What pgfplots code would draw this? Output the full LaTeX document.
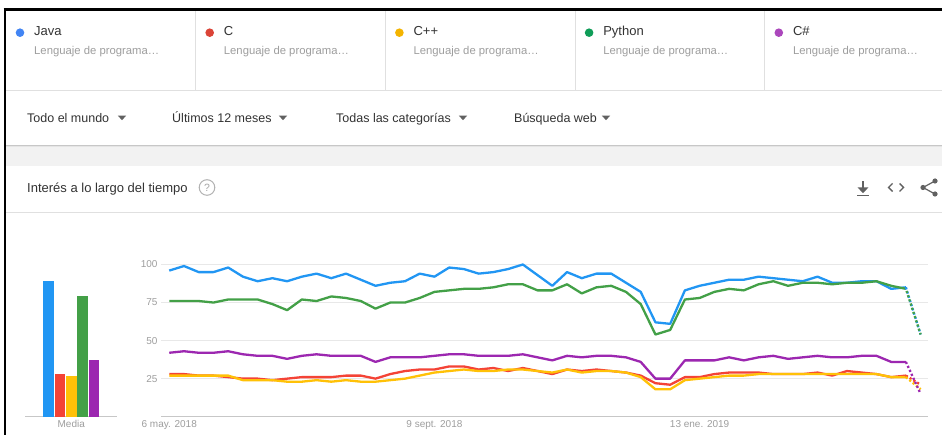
\documentclass[border=0pt]{standalone}
\usepackage{fontspec}
\setmainfont{Liberation Sans}
\usepackage{pgfplots}
\usepackage{pgfplotstable}
\pgfplotsset{compat=1.18}
\definecolor{cjava}{HTML}{2196F3}
\definecolor{cc}{HTML}{F44336}
\definecolor{ccpp}{HTML}{FFC107}
\definecolor{cpy}{HTML}{43A047}
\definecolor{ccs}{HTML}{9C27B0}
\definecolor{djava}{HTML}{4285F4}
\definecolor{dc}{HTML}{DB4437}
\definecolor{dcpp}{HTML}{F4B400}
\definecolor{dpy}{HTML}{0F9D58}
\definecolor{dcs}{HTML}{AB47BC}
\definecolor{txtdark}{HTML}{333333}
\definecolor{txtgray}{HTML}{9E9E9E}
\definecolor{linegray}{HTML}{E0E0E0}
\definecolor{gridgray}{HTML}{E8E8E8}
\definecolor{bandgray}{HTML}{F2F2F2}
\definecolor{icongray}{HTML}{616161}

\pgfplotstableread{
i  java  c   cpp  py  cs
0  96    28  27   76  42
1  99    28  27   76  43
2  95    27  27   76  42
3  95    27  27   75  42
4  98    26  27   77  43
5  92    25  24   77  41
6  89    25  24   77  40
7  91    24  24   74  40
8  89    25  23   70  38
9  92    26  23   77  40
10 94    26  24   76  41
11 91    26  23   79  40
12 94    27  24   78  40
13 90    27  23   76  40
14 86    25  23   71  36
15 88    28  24   75  39
16 89    30  25   75  39
17 94    31  27   78  39
18 92    31  29   82  40
19 98    33  30   83  41
20 97    33  31   84  41
21 94    31  30   84  40
22 95    32  30   85  40
23 97    30  31   87  40
24 100   32  31   87  41
25 93    30  30   83  39
26 86    28  29   83  37
27 95    31  31   87  40
28 91    30  29   81  39
29 94    31  30   85  40
30 94    30  30   86  40
31 88    29  29   82  39
32 82    27  26   74  36
33 62    22  18   54  25
34 61    21  18   57  25
35 83    26  24   77  37
36 86    26  25   78  37
37 88    28  26   82  37
38 90    29  27   84  39
39 90    29  27   83  37
40 92    29  28   87  39
41 91    28  28   89  40
42 90    28  28   86  38
43 89    28  28   88  39
44 92    29  28   88  40
45 88    27  28   87  39
46 88    30  28   88  39
47 89    29  28   88  40
48 89    28  28   89  40
49 84    26  26   86  36
50 85    27  26   84  36
51 54    21  18   54  15
}\trends

\begin{document}
\begin{tikzpicture}[x=1pt,y=1pt]
\useasboundingbox (0,0) rectangle (942,435);
\fill[white] (0,0) rectangle (942,435);
% gray band and shadow
\fill[bandgray] (5,269) rectangle (942,288);
\fill[black!10] (5,287.5) rectangle (942,289);
\fill[black!22] (5,288.8) rectangle (942,289.8);
% lines
\draw[linegray, line width=0.8pt] (5,345) -- (942,345);
\draw[linegray, line width=0.8pt] (5,223) -- (942,223);
\foreach \sx in {195.7,385.4,575.1,764.8} {\draw[linegray, line width=0.8pt] (\sx,345) -- (\sx,424);}
% frame
\draw[black, line width=2.6pt] (3.5,425.5) -- (942,425.5);
\draw[black, line width=2.6pt] (5,0) -- (5,426.8);
% legend
\foreach \k/\col/\name in {0/djava/Java,1/dc/C,2/dcpp/C++,3/dpy/Python,4/dcs/C\#} {
  \fill[\col] (20+189.7*\k,402.3) circle (4.3);
  \node[anchor=base west, inner sep=0, text=txtdark, font=\fontsize{13}{15}\selectfont] at (34+189.7*\k,399) {\name};
  \node[anchor=base west, inner sep=0, text=txtgray, font=\fontsize{11.3}{13}\selectfont] at (34+189.7*\k,380.7) {Lenguaje de programa…};
}
% filters
\foreach \tx/\ax/\lab in {27/122/Todo el mundo,172/283/Últimos 12 meses,336/463/Todas las categorías,514/606/Búsqueda web} {
  \node[anchor=base west, inner sep=0, text=txtdark, font=\fontsize{12.5}{14}\selectfont] at (\tx,312.5) {\lab};
  \fill[icongray] (\ax-4.2,319.3) -- (\ax+4.2,319.3) -- (\ax,314.9) -- cycle;
}
% title row
\node[anchor=base west, inner sep=0, text=txtdark, font=\fontsize{13}{15}\selectfont] at (27,242.8) {Interés a lo largo del tiempo};
\draw[black!30, line width=1pt] (207,247.5) circle (7.8);
\node[text=black!35, inner sep=0, font=\fontsize{10.5}{12}\selectfont] at (207,247.5) {?};
% download icon
\fill[icongray] (861.6,247) rectangle (864.4,254);
\fill[icongray] (857.6,247.5) -- (868.4,247.5) -- (863,241.8) -- cycle;
\fill[icongray] (857,238.6) rectangle (869,240.2);
% embed icon
\draw[icongray, line width=1.4pt] (892.5,251.5) -- (888.5,247.5) -- (892.5,243.5);
\draw[icongray, line width=1.4pt] (899.5,251.5) -- (903.5,247.5) -- (899.5,243.5);
% share icon
\draw[icongray, line width=1.2pt] (935,254) -- (923,247.5) -- (935,241);
\fill[icongray] (935,254) circle (2.6);
\fill[icongray] (923,247.5) circle (2.6);
\fill[icongray] (935,241) circle (2.6);

% bar chart (Media)
\begin{axis}[
  at={(25pt,18.3pt)}, anchor=south west, scale only axis,
  width=92pt, height=152.2pt,
  xmin=-2.08, xmax=6.03, ymin=0, ymax=100,
  axis line style={draw=none},
  ytick=\empty, xtick={2}, xticklabels={Media},
  major tick length=0pt,
  extra y ticks={0}, extra y tick labels={},
  extra y tick style={grid=major, major grid style={black!22, line width=1.3pt}},
  xticklabel style={text=txtgray, font=\fontsize{10}{12}\selectfont},
  clip=false,
]
\addplot[ybar, bar shift=0pt, bar width=10.6pt, fill=cjava, draw=none] coordinates {(0,89)};
\addplot[ybar, bar shift=0pt, bar width=10.6pt, fill=cc, draw=none] coordinates {(1,28)};
\addplot[ybar, bar shift=0pt, bar width=10.6pt, fill=ccpp, draw=none] coordinates {(2,27)};
\addplot[ybar, bar shift=0pt, bar width=10.6pt, fill=cpy, draw=none] coordinates {(3,79)};
\addplot[ybar, bar shift=0pt, bar width=10.6pt, fill=ccs, draw=none] coordinates {(4,37)};
\end{axis}

% line chart
\begin{axis}[
  at={(161pt,18.3pt)}, anchor=south west, scale only axis,
  width=767pt, height=152.2pt,
  xmin=-0.56, xmax=51.5, ymin=0, ymax=100,
  axis line style={draw=none},
  ytick={25,50,75,100}, ymajorgrids,
  major grid style={gridgray, line width=1pt},
  extra y ticks={0}, extra y tick labels={},
  extra y tick style={grid=major, major grid style={black!22, line width=1.3pt}},
  xtick={0,18,36}, xticklabels={6 may. 2018, 9 sept. 2018, 13 ene. 2019},
  major tick length=0pt,
  /pgf/number format/assume math mode=true,
  ticklabel style={text=txtgray, font=\fontsize{10}{12}\selectfont},
  clip=false,
  every axis plot/.append style={line width=2.3pt, line join=round, mark=none},
]
\addplot[cjava, restrict x to domain=0:50] table[x=i,y=java] {\trends};
\addplot[cc, restrict x to domain=0:50] table[x=i,y=c] {\trends};
\addplot[ccpp, restrict x to domain=0:50] table[x=i,y=cpp] {\trends};
\addplot[cpy, restrict x to domain=0:50] table[x=i,y=py] {\trends};
\addplot[ccs, restrict x to domain=0:50] table[x=i,y=cs] {\trends};
\addplot[cjava, dash pattern=on 2.2pt off 2.2pt, restrict x to domain=50:51] table[x=i,y=java] {\trends};
\addplot[cc, dash pattern=on 2.2pt off 2.2pt, restrict x to domain=50:51] table[x=i,y=c] {\trends};
\addplot[ccpp, dash pattern=on 2.2pt off 2.2pt, restrict x to domain=50:51] table[x=i,y=cpp] {\trends};
\addplot[cpy, dash pattern=on 2.2pt off 2.2pt, dash phase=2.2pt, restrict x to domain=50:51] table[x=i,y=py] {\trends};
\addplot[ccs, dash pattern=on 2.2pt off 2.2pt, restrict x to domain=50:51] table[x=i,y=cs] {\trends};
\end{axis}
\end{tikzpicture}
\end{document}
